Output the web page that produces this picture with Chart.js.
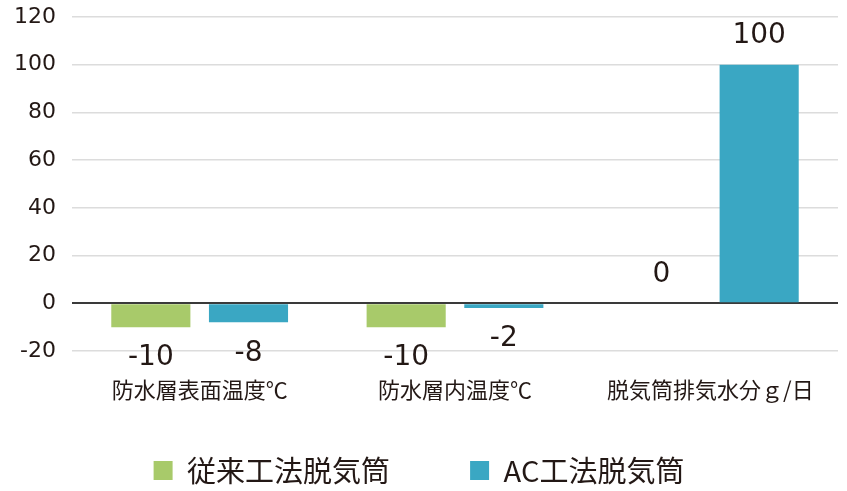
<!DOCTYPE html>
<html>
<head>
<meta charset="utf-8">
<script src="https://cdn.jsdelivr.net/npm/chart.js@4.4.0/dist/chart.umd.min.js"></script>
<style>
  html, body { margin: 0; padding: 0; background: #fff; }
  #wrap { width: 847px; height: 491px; }
</style>
</head>
<body>
<div id="wrap"><canvas id="chart" width="847" height="491"></canvas></div>
<script>
// categories and series
var categories = ["防水層表面温度℃", "防水層内温度℃", "脱気筒排気水分ｇ/日"];
var seriesNames = ["従来工法脱気筒", "AC工法脱気筒"];
var oldValues = [-10, -10, 0];
var acValues = [-8, -2, 100];
var yTicks = [-20, 0, 20, 40, 60, 80, 100, 120];

var green = "#a8ca6a";
var teal = "#3aa7c3";
var jpFont = "'Noto Sans CJK JP', sans-serif";
var numFont = "'DejaVu Sans', sans-serif";

// draws the value under/over each bar
var valueLabels = {
  id: "valueLabels",
  afterDatasetsDraw(chart) {
    var ctx = chart.ctx;
    ctx.save();
    ctx.font = "28px " + numFont;
    ctx.fillStyle = "#231815";
    ctx.textAlign = "center";
    ctx.textBaseline = "middle";
    chart.data.datasets.forEach(function (ds, i) {
      var meta = chart.getDatasetMeta(i);
      meta.data.forEach(function (bar, j) {
        var v = ds.data[j];
        var y = v < 0 ? bar.y + 31 : bar.y - 29;
        ctx.fillText(String(v), bar.x, y);
      });
    });
    ctx.restore();
  }
};

new Chart(document.getElementById("chart"), {
  type: "bar",
  data: {
    labels: categories,
    datasets: [
      { label: seriesNames[0], data: oldValues, backgroundColor: green },
      { label: seriesNames[1], data: acValues, backgroundColor: teal }
    ]
  },
  options: {
    responsive: false,
    animation: false,
    datasets: {
      bar: { categoryPercentage: 0.765, barPercentage: 0.81 }
    },
    layout: { padding: { left: 0, right: 9, top: 17, bottom: -4 } },
    plugins: {
      legend: {
        position: "bottom",
        labels: {
          font: { family: jpFont, size: 29 },
          color: "#231815",
          boxWidth: 19,
          boxHeight: 19,
          padding: 51,
          // a little extra room after the first item
          generateLabels: function (chart) {
            var items = Chart.defaults.plugins.legend.labels.generateLabels(chart);
            items[0].text = items[0].text + "\u3000";
            return items;
          }
        }
      },
      tooltip: { enabled: false }
    },
    scales: {
      x: {
        grid: { display: false, drawTicks: false },
        border: { display: false },
        ticks: {
          font: { family: jpFont, size: 22 },
          color: "#231815",
          padding: 25
        },
        afterFit: function (axis) {
          axis.height = 54;
          axis.paddingLeft = 0;
          axis.paddingRight = 0;
        }
      },
      y: {
        min: -20,
        max: 120,
        afterBuildTicks: function (axis) {
          axis.ticks = yTicks.map(function (v) { return { value: v }; });
        },
        grid: {
          drawTicks: false,
          color: function (c) { return c.tick && c.tick.value === 0 ? "#3a3a3a" : "#dcdcdc"; },
          lineWidth: function (c) { return c.tick && c.tick.value === 0 ? 2 : 1.5; }
        },
        border: { display: false },
        ticks: {
          font: { family: numFont, size: 22 },
          color: "#231815",
          padding: 16
        },
        afterFit: function (axis) {
          axis.width = 72;
          axis.paddingTop = 0;
          axis.paddingBottom = 0;
        }
      }
    }
  },
  plugins: [valueLabels]
});
</script>
</body>
</html>
